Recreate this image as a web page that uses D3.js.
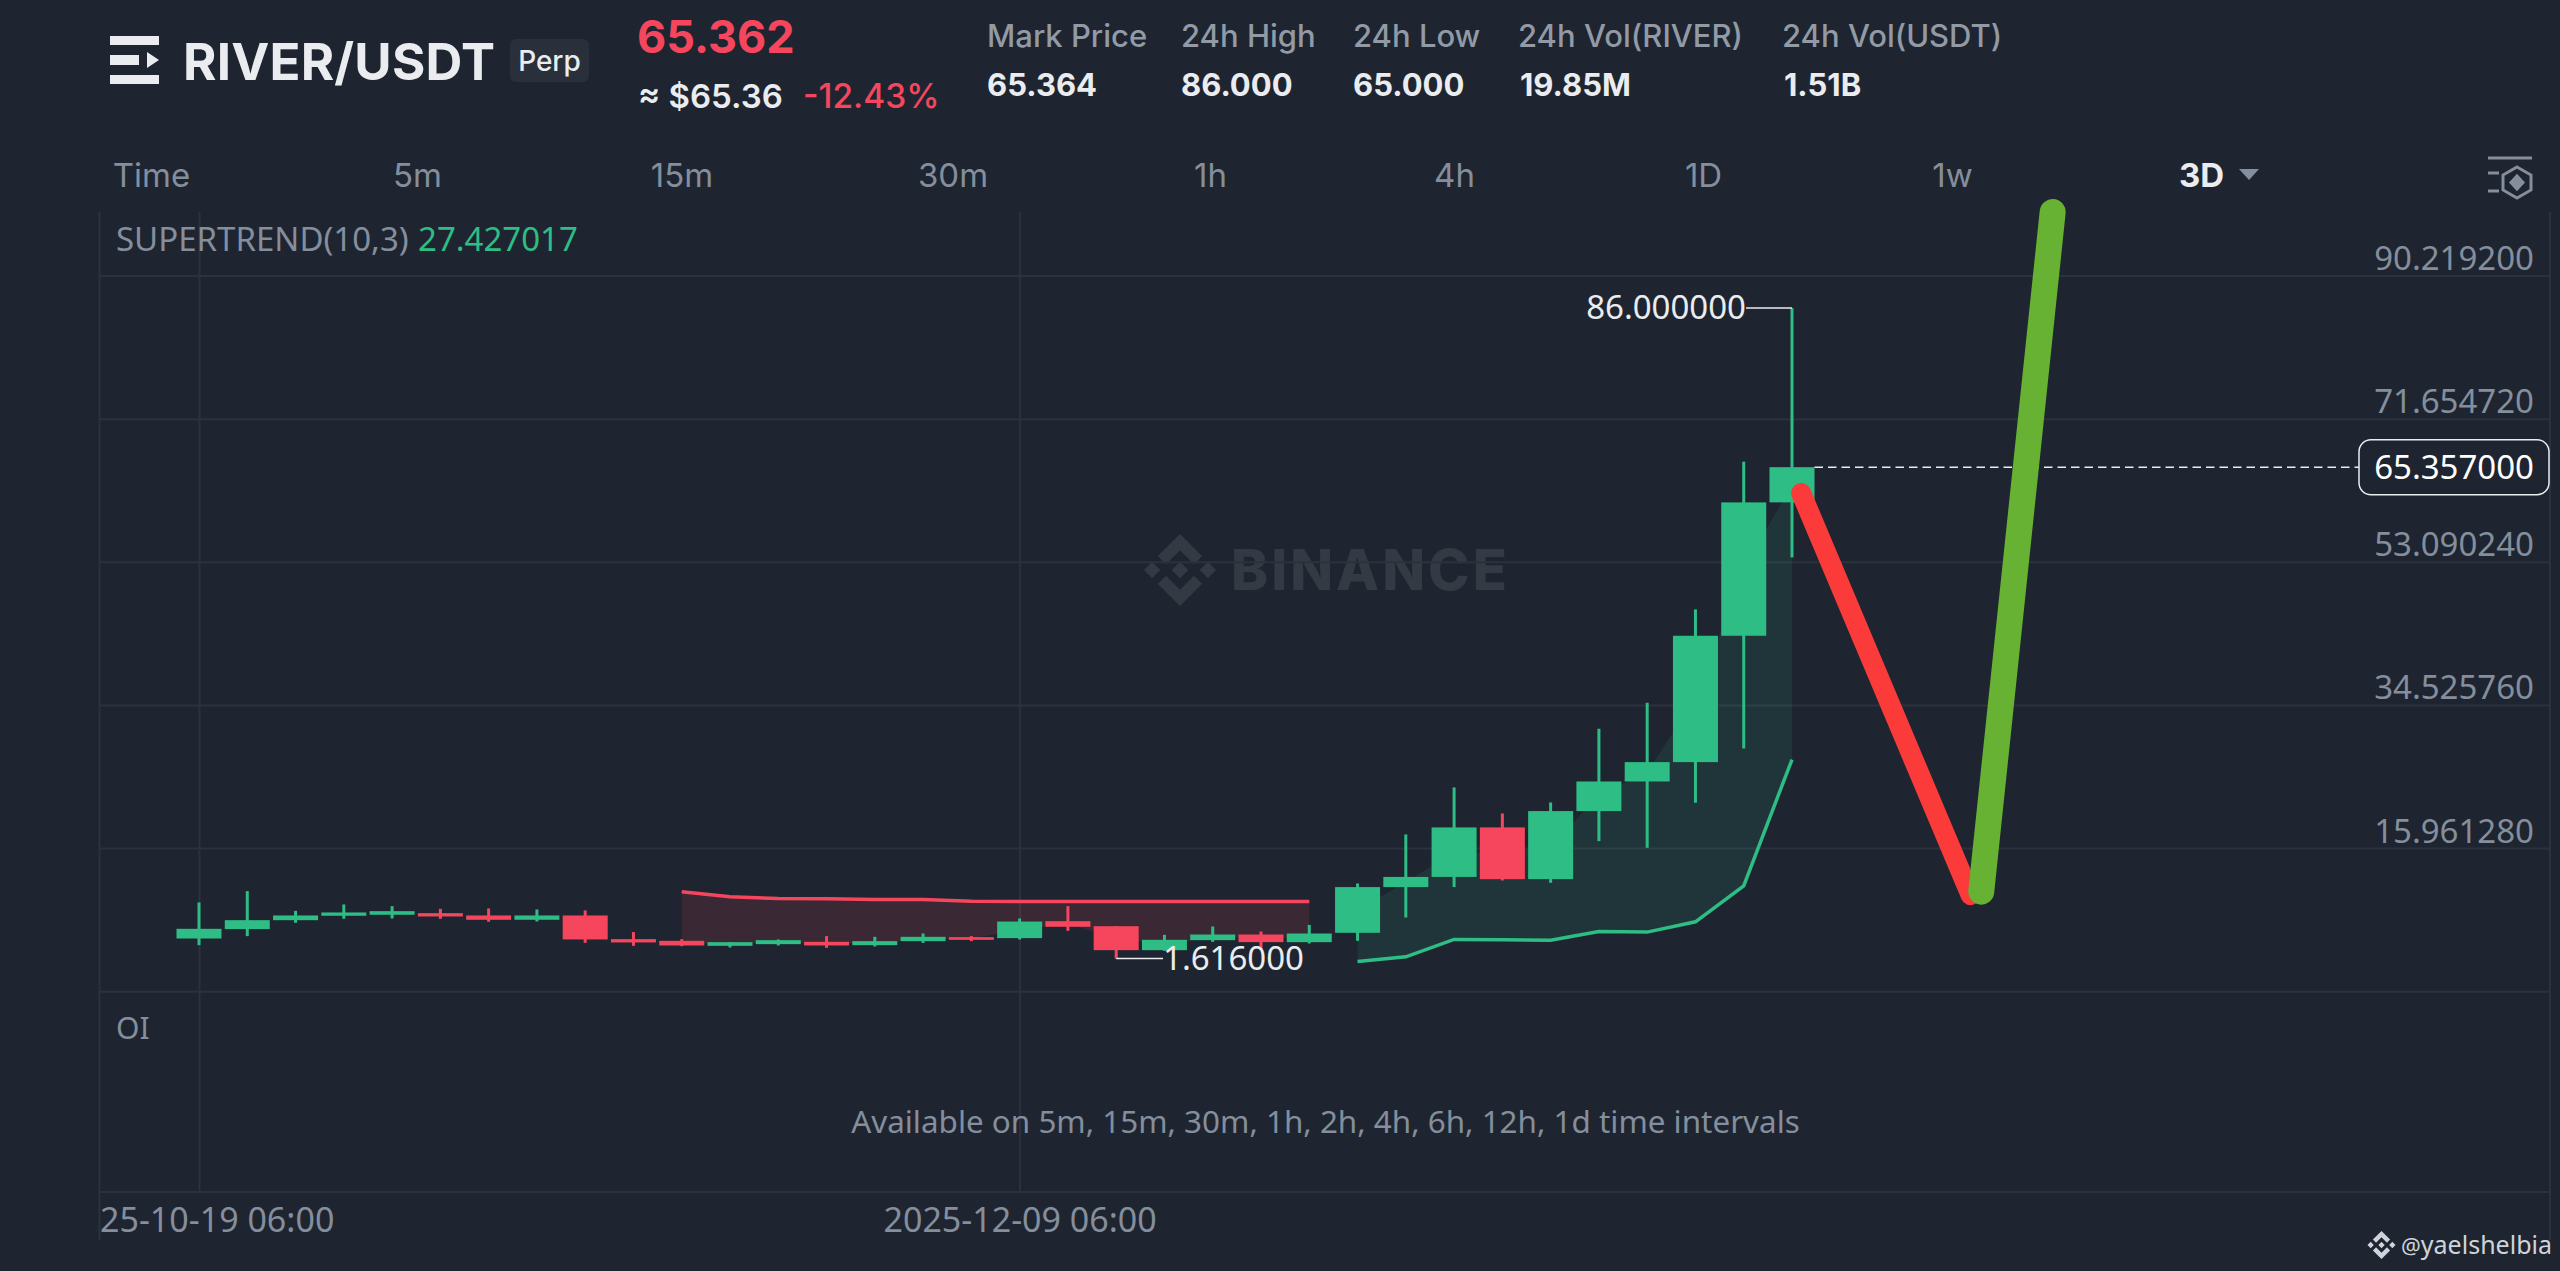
<!DOCTYPE html>
<html><head><meta charset="utf-8">
<script src="https://cdnjs.cloudflare.com/ajax/libs/d3/7.8.5/d3.min.js"></script>
<style>html,body{margin:0;padding:0;background:#1e2530;overflow:hidden}svg{display:block}</style>
</head><body><div id="c"></div>
<script>
// ---- data ----
const opens  = [4.22,5.44,6.60,7.17,7.30,7.51,7.21,6.65,7.21,4.14,3.92,3.27,3.49,3.79,3.36,3.88,4.40,4.27,6.47,5.82,2.71,4.01,4.74,3.75,4.96,10.89,12.21,18.63,11.92,20.75,24.59,27.10,43.49,60.79];
const highs  = [8.90,10.37,7.81,8.64,8.42,8.07,8.12,7.99,7.86,5.05,4.14,3.75,4.10,4.53,4.44,4.87,4.53,6.82,8.42,5.82,4.70,5.78,5.13,5.99,11.36,17.72,23.82,20.44,21.87,31.43,34.80,46.91,66.07,86.00];
const lows   = [3.36,4.53,6.26,6.78,6.82,6.78,6.39,6.43,3.66,3.27,3.23,3.06,3.32,3.01,3.19,3.66,3.88,4.09,5.22,1.616,2.62,3.79,2.80,3.58,3.92,6.95,10.89,11.75,11.45,16.85,15.99,21.83,28.87,53.65];
const closes = [5.48,6.60,7.21,7.60,7.77,7.08,6.65,7.21,4.10,3.71,3.32,3.75,4.01,3.32,3.88,4.44,4.05,6.42,5.74,2.71,4.05,4.74,3.75,4.87,10.89,12.21,18.63,11.92,20.75,24.59,27.10,43.49,60.79,65.357];
const superRedIdx = [10,11,12,13,14,15,16,17,18,19,20,21,22,23];
const superRed    = [10.28,9.63,9.41,9.37,9.28,9.28,9.07,9.03,9.03,9.03,9.03,9.03,9.03,9.03];
const superGreenIdx = [24,25,26,27,28,29,30,31,32,33];
const superGreen    = [1.24,1.85,4.10,4.05,4.01,5.13,5.05,6.39,11.06,27.427];
const priceTicks = [90.2192,71.65472,53.09024,34.52576,15.96128];
const timeTicks = [0,17];
const timeLabels = ["25-10-19 06:00","2025-12-09 06:00"];
const lastPrice = 65.357, maxPrice = 86.0, minPrice = 1.616;
const redStrokeIdx = [33.19,36.7],  redStrokePrice = [62.0,9.85];
const greenStrokeIdx = [36.92,38.4], greenStrokePrice = [10.3,98.45];
const statLabels = ["Mark Price","24h High","24h Low","24h Vol(RIVER)","24h Vol(USDT)"];
const statValues = ["65.364","86.000","65.000","19.85M","1.51B"];
const timeframes = ["Time","5m","15m","30m","1h","4h","1D","1w"];

// ---- layout ----
const statX = [987,1181,1353,1518,1782];
const statValX = [987,1181,1353,1520,1784];
const tfX = [151.5,417.5,682,953,1210.5,1454.5,1703.5,1952.5];
const C = {bg:"#1e2530",grid:"#2c323d",green:"#2ebd85",red:"#f6465d",gray:"#848e9c",light:"#eaecef",
  sans:"'Noto Sans','Open Sans',sans-serif",ui:"Inter,'Noto Sans',sans-serif"};
const L=99.5,R=2550,T=212,B=1240,P1=991.7,P2=1192;
const LOGO="M38.73 53.2l24.59-24.58 24.6 24.6 14.3-14.31L63.32 0 24.42 38.9zM0 63.31l14.3-14.31 14.31 14.31-14.31 14.3zM38.73 73.41l24.59 24.59 24.6-24.6 14.31 14.29L63.32 126.61 24.42 87.71l-.02-.02zM98 63.31l14.3-14.31 14.31 14.3-14.31 14.32zM77.83 63.3L63.32 48.78 52.59 59.51l-1.24 1.23-2.54 2.54 14.51 14.51 14.51-14.51z";

const svg=d3.select("#c").append("svg").attr("width",2560).attr("height",1271).attr("viewBox","0 0 2560 1271");
svg.append("rect").attr("width",2560).attr("height",1271).attr("fill",C.bg);

const x=d3.scaleLinear().domain([0,33]).range([199,1792]);
const y=d3.scaleLinear().domain([priceTicks[4],priceTicks[0]]).range([848,275.5]);
const bodyW=45, wickW=3;

function txt(s,px,py,size,fill,opts={}){
  return svg.append("text").attr("x",px).attr("y",py).attr("font-size",size).attr("fill",fill)
    .attr("font-family",opts.font||C.ui).attr("font-weight",opts.weight||400)
    .attr("text-anchor",opts.anchor||"start").attr("letter-spacing",opts.ls||null).text(s);
}
function logo(cx,cy,r,fill){
  svg.append("path").attr("d",LOGO).attr("fill",fill)
    .attr("transform",`translate(${cx-r},${cy-r}) scale(${2*r/126.61})`);
}

// watermark
logo(1180,570,36,"#333a44");
txt("BINANCE",1231,590,56,"#333a44",{weight:800,ls:"3px"});

// frame lines
const frame=svg.append("g").attr("stroke",C.grid).attr("stroke-width",2);
frame.append("line").attr("x1",L).attr("x2",L).attr("y1",T).attr("y2",B);
frame.append("line").attr("x1",R).attr("x2",R).attr("y1",T).attr("y2",B);
frame.append("line").attr("x1",L).attr("x2",R).attr("y1",P1).attr("y2",P1);
frame.append("line").attr("x1",L).attr("x2",R).attr("y1",P2).attr("y2",P2);

// y axis (grid + labels)
const yAxis=d3.axisRight(y).tickValues(priceTicks).tickSize(R-L).tickFormat(d=>d.toFixed(6));
const yG=svg.append("g").attr("transform",`translate(${L},0)`).call(yAxis);
yG.select(".domain").remove();
yG.selectAll("line").attr("stroke",C.grid).attr("stroke-width",2);
yG.selectAll("text").attr("x",2534-L).attr("dy",0).attr("y",-6).attr("text-anchor","end")
  .attr("font-size",33).attr("font-family",C.sans).attr("fill",C.gray);

// x axis (grid + labels)
const xAxis=d3.axisBottom(x).tickValues(timeTicks).tickSize(P2-T).tickFormat((d,i)=>timeLabels[i]);
const xG=svg.append("g").attr("transform",`translate(0,${T})`).call(xAxis);
xG.select(".domain").remove();
xG.selectAll("line").attr("stroke",C.grid).attr("stroke-width",2);
xG.selectAll("text").attr("y",1231.7-T).attr("dy",0).attr("font-size",34).attr("font-family",C.sans).attr("fill",C.gray)
  .attr("text-anchor",(d,i)=>i==0?"start":"middle").attr("x",(d,i)=>i==0?L-x(0):0);

// supertrend fills
const mid=i=>(opens[i]+closes[i])/2;
const area=d3.area().x(d=>x(d.i)).y0(d=>y(mid(d.i))).y1(d=>y(d.v));
const redPts=superRedIdx.map((i,k)=>({i,v:superRed[k]}));
const greenPts=superGreenIdx.map((i,k)=>({i,v:superGreen[k]}));
svg.append("path").datum(redPts).attr("d",area).attr("fill",C.red).attr("fill-opacity",.13);
svg.append("path").datum(greenPts).attr("d",area).attr("fill",C.green).attr("fill-opacity",.11);

// candles
const idx=d3.range(opens.length);
const col=i=>closes[i]>=opens[i]?C.green:C.red;
const cg=svg.append("g");
cg.selectAll("rect.w").data(idx).join("rect").attr("class","w")
  .attr("x",i=>x(i)-wickW/2).attr("width",wickW).attr("y",i=>y(highs[i])).attr("height",i=>y(lows[i])-y(highs[i])).attr("fill",col);
cg.selectAll("rect.b").data(idx).join("rect").attr("class","b")
  .attr("x",i=>x(i)-bodyW/2).attr("width",bodyW).attr("y",i=>y(Math.max(opens[i],closes[i])))
  .attr("height",i=>Math.abs(y(opens[i])-y(closes[i]))).attr("fill",col);

// supertrend lines
const line=d3.line().x(d=>x(d.i)).y(d=>y(d.v));
svg.append("path").datum(redPts).attr("d",line).attr("fill","none").attr("stroke",C.red).attr("stroke-width",3.5);
svg.append("path").datum(greenPts).attr("d",line).attr("fill","none").attr("stroke",C.green).attr("stroke-width",3.5);

// max / min markers
const hi=idx[d3.maxIndex(highs)], lo=idx[d3.minIndex(lows)];
svg.append("line").attr("x1",x(hi)).attr("x2",1746).attr("y1",y(maxPrice)).attr("y2",y(maxPrice)).attr("stroke",C.light).attr("stroke-width",1.5);
txt(maxPrice.toFixed(6),1746,y(maxPrice)+11,33,C.light,{font:C.sans,anchor:"end"});
svg.append("line").attr("x1",x(lo)).attr("x2",1163).attr("y1",y(minPrice)).attr("y2",y(minPrice)).attr("stroke",C.light).attr("stroke-width",1.5);
txt(minPrice.toFixed(6),1163,y(minPrice)+11,33,C.light,{font:C.sans});

// last price
svg.append("line").attr("x1",x(33)+bodyW/2).attr("x2",2359).attr("y1",y(lastPrice)).attr("y2",y(lastPrice))
  .attr("stroke",C.light).attr("stroke-width",1.5).attr("stroke-dasharray","8.5 5");
svg.append("rect").attr("x",2359).attr("y",y(lastPrice)-27.5).attr("width",190).attr("height",55).attr("rx",12)
  .attr("fill",C.bg).attr("stroke",C.light).attr("stroke-width",1.5);
txt(lastPrice.toFixed(6),2534,y(lastPrice)+11.5,33,"#fff",{font:C.sans,anchor:"end"});

// hand-drawn strokes
const seg=d3.line().x(d=>x(d[0])).y(d=>y(d[1]));
svg.append("path").attr("d",seg(d3.zip(redStrokeIdx,redStrokePrice))).attr("fill","none").attr("stroke","#fb3a3a").attr("stroke-width",20).attr("stroke-linecap","round");
svg.append("path").attr("d",seg(d3.zip(greenStrokeIdx,greenStrokePrice))).attr("fill","none").attr("stroke","#67b233").attr("stroke-width",26).attr("stroke-linecap","round");

// header logo
const hl=svg.append("g").attr("fill","#eaecef");
hl.append("rect").attr("x",110).attr("y",36).attr("width",49).attr("height",9);
hl.append("rect").attr("x",110).attr("y",55).attr("width",29).attr("height",10);
hl.append("path").attr("d","M147 52 L159 60 L147 68 Z");
hl.append("rect").attr("x",110).attr("y",75).attr("width",49).attr("height",9);
txt("RIVER/USDT",183,79.5,51,"#eaecef",{weight:700,ls:"0.2px"});
svg.append("rect").attr("x",510).attr("y",39).attr("width",79).attr("height",43).attr("rx",6).attr("fill","#2a303b");
txt("Perp",549.5,70.5,28,"#eaecef",{anchor:"middle",weight:500});
txt("65.362",637,53,45,C.red,{weight:700});
txt("≈ $65.36",638,108,33,"#eaecef",{weight:600});
txt("-12.43%",803,108,33.5,C.red,{weight:500});
statLabels.forEach((s,i)=>txt(s,statX[i],47,31,"#929aa5",{weight:500}));
statValues.forEach((s,i)=>txt(s,statValX[i],96,31,"#eaecef",{weight:700}));

// timeframes
timeframes.forEach((s,i)=>txt(s,tfX[i],186.7,33,C.gray,{anchor:"middle"}));
txt("3D",2201.5,186.7,33,"#eaecef",{anchor:"middle",weight:700});
svg.append("path").attr("d","M2239 169 L2259 169 L2249 180 Z").attr("fill",C.gray);
const ic=svg.append("g").attr("stroke",C.gray).attr("stroke-width",3).attr("fill","none");
ic.append("line").attr("x1",2488).attr("x2",2532).attr("y1",158).attr("y2",158);
ic.append("line").attr("x1",2488).attr("x2",2499).attr("y1",173).attr("y2",173);
ic.append("line").attr("x1",2488).attr("x2",2499).attr("y1",191).attr("y2",191);
ic.append("path").attr("d","M2517 167 L2531 175 L2531 190 L2517 198 L2503 190 L2503 175 Z");
ic.append("path").attr("d","M2517 176 L2523 182.500 L2517 189 L2511 182.500 Z").attr("fill",C.gray);

// legends
txt("SUPERTREND(10,3)",116,250.7,33,C.gray,{font:C.sans});
txt("27.427017",418,250.7,33,C.green,{font:C.sans});
txt("OI",116,1039,30,C.gray,{font:C.sans});
txt("Available on 5m, 15m, 30m, 1h, 2h, 4h, 6h, 12h, 1d time intervals",1325.500,1133,31.4,C.gray,{font:C.sans,anchor:"middle"});

// footer watermark
logo(2381.500,1245,14,"#d0d4da");
txt("@",2401,1254,22,"#d0d4da",{font:C.sans});
txt("yaelshelbia",2552,1254,25,"#d0d4da",{font:C.sans,anchor:"end"});
</script></body></html>
